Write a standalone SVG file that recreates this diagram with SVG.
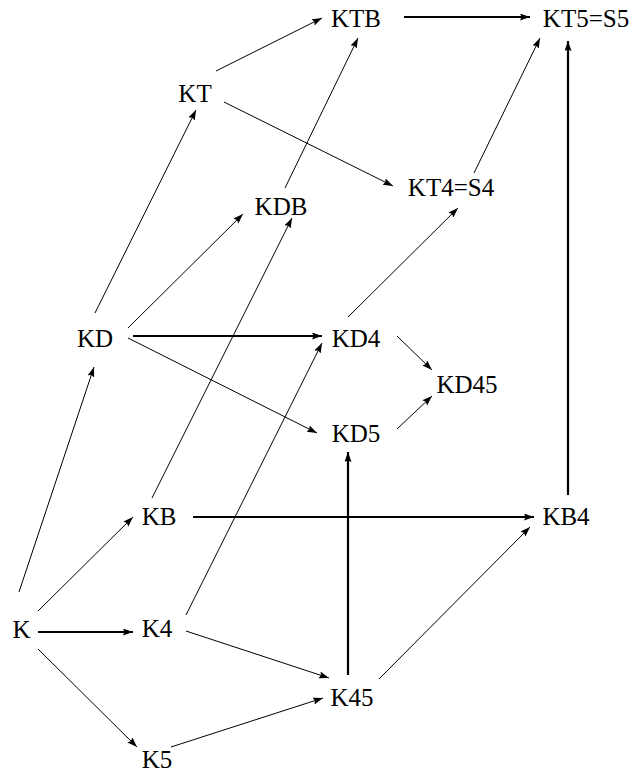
<svg xmlns="http://www.w3.org/2000/svg" width="632" height="775" viewBox="0 0 632 775">
<style>
.n text{font-family:"Liberation Serif","Times New Roman",serif;font-size:25px;fill:#000;text-anchor:middle}
.e line{stroke:#000;stroke-width:1;fill:none;marker-end:url(#ah)}
.e line.t{stroke-width:2.2}
</style>
<defs>
<marker id="ah" markerUnits="userSpaceOnUse" markerWidth="11" markerHeight="8" refX="10" refY="3.5" orient="auto">
<path d="M0,0 L10,3.5 L0,7 L1.5,3.5 z" fill="#000"/>
</marker>
</defs>
<rect width="632" height="775" fill="#fff"/>
<g id="edges" class="e">
<line class="t" x1="404" y1="17" x2="530" y2="17"/>
<line x1="216" y1="71" x2="322" y2="18"/>
<line x1="224" y1="102" x2="393" y2="186"/>
<line x1="95" y1="313" x2="196" y2="110"/>
<line x1="285" y1="188" x2="358" y2="38"/>
<line x1="474" y1="173" x2="540" y2="38"/>
<line class="t" x1="568" y1="495" x2="568" y2="41"/>
<line x1="128" y1="328" x2="243" y2="214"/>
<line x1="152" y1="498" x2="292" y2="218"/>
<line class="t" x1="133" y1="336" x2="322" y2="336"/>
<line x1="128" y1="338" x2="317" y2="433"/>
<line x1="348" y1="317" x2="458" y2="208"/>
<line x1="397" y1="336" x2="432" y2="370"/>
<line x1="397" y1="429" x2="432" y2="396"/>
<line class="t" x1="348" y1="675" x2="348" y2="452"/>
<line x1="19" y1="592" x2="94" y2="367"/>
<line x1="38" y1="611" x2="133" y2="517"/>
<line class="t" x1="38" y1="632" x2="133" y2="632"/>
<line x1="38" y1="649" x2="137" y2="747"/>
<line x1="186" y1="615" x2="322" y2="343"/>
<line x1="186" y1="631" x2="329" y2="678"/>
<line x1="171" y1="747" x2="323" y2="698"/>
<line x1="379" y1="679" x2="530" y2="527"/>
<line class="t" x1="193" y1="517" x2="534" y2="517"/>
</g>
<g id="KTB" class="n"><text x="356" y="27">KTB</text></g>
<g id="KT5" class="n"><text x="586" y="27">KT5=S5</text></g>
<g id="KT" class="n"><text x="195" y="102">KT</text></g>
<g id="KT4" class="n"><text x="451" y="196">KT4=S4</text></g>
<g id="KDB" class="n"><text x="281" y="215">KDB</text></g>
<g id="KD" class="n"><text x="95" y="347">KD</text></g>
<g id="KD4" class="n"><text x="356" y="347">KD4</text></g>
<g id="KD45" class="n"><text x="467" y="393">KD45</text></g>
<g id="KD5" class="n"><text x="356" y="442">KD5</text></g>
<g id="KB" class="n"><text x="159" y="525">KB</text></g>
<g id="KB4" class="n"><text x="566" y="525">KB4</text></g>
<g id="K" class="n"><text x="21.5" y="638">K</text></g>
<g id="K4" class="n"><text x="157" y="637">K4</text></g>
<g id="K45" class="n"><text x="352" y="706">K45</text></g>
<g id="K5" class="n"><text x="157" y="768">K5</text></g>
</svg>
